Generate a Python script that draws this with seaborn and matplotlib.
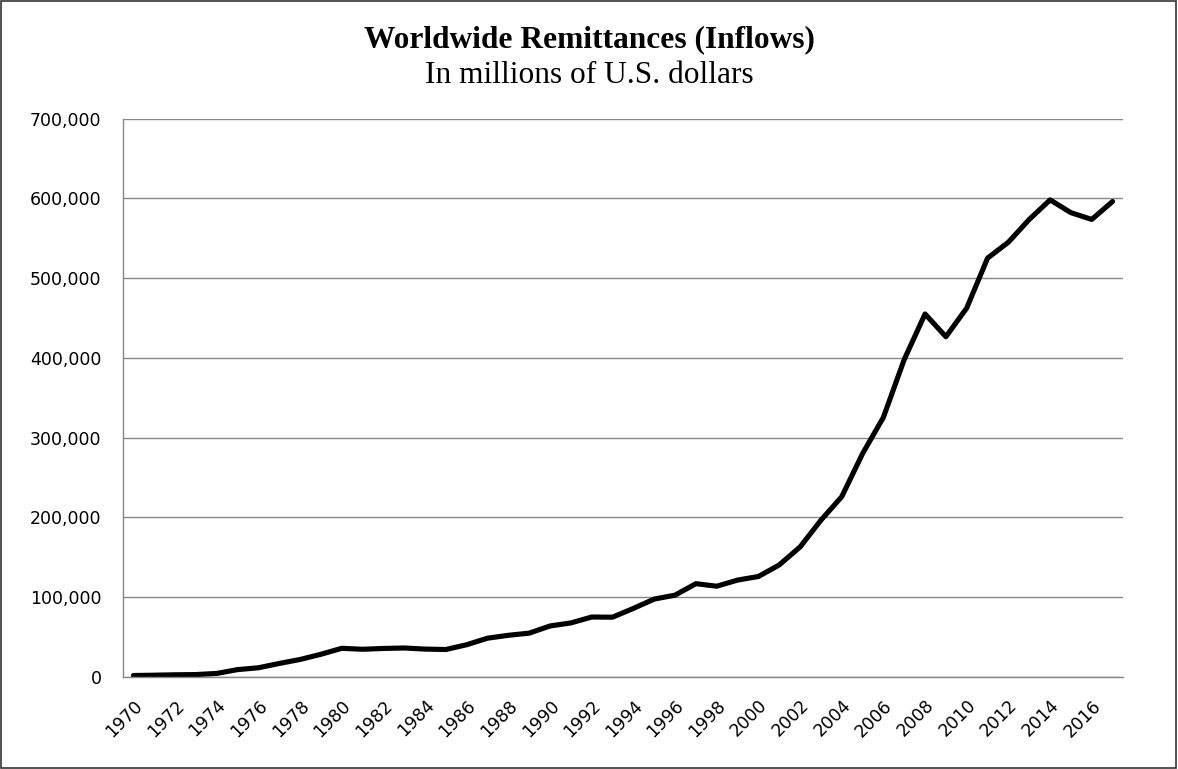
import numpy as np
import pandas as pd
import matplotlib
matplotlib.use("Agg")
import matplotlib.pyplot as plt
import seaborn as sns
from matplotlib.ticker import FuncFormatter, FixedLocator

# values (millions of US$)
years = list(range(1970, 2018))
inflows = [1900, 2300, 2800, 3100, 4500, 9300, 11600, 17000, 22000, 28500,
           36000, 34800, 35800, 36400, 35000, 34500, 40500, 48700, 52300, 55000,
           64000, 67800, 75200, 75000, 86000, 97700, 102600, 117000, 113800, 121500,
           126000, 140500, 163000, 196500, 226000, 280000, 325500, 398000, 455000, 426500,
           462500, 525000, 545000, 573500, 598000, 582000, 573500, 596000]
label_years = list(range(1970, 2017, 2))
y_ticks = list(range(0, 700001, 100000))

title = "Worldwide Remittances (Inflows)"
subtitle = "In millions of U.S. dollars"

df = pd.DataFrame({"year": years, "inflows": inflows})

sns.set_style("white")
plt.rcParams["font.family"] = ["DejaVu Sans"]
plt.rcParams["text.color"] = "black"
plt.rcParams["xtick.labelcolor"] = "black"
plt.rcParams["ytick.labelcolor"] = "black"

fig = plt.figure(figsize=(11.78, 7.69), dpi=100)
ax = fig.add_axes([0.1044, 0.1196, 0.9533 - 0.1044, 0.8459 - 0.1196])

sns.lineplot(data=df, x="year", y="inflows", ax=ax, color="black", linewidth=3.7,
             solid_joinstyle="round", solid_capstyle="round")

grid_col = "#888888"
ax.set_xlim(1969.5, 2017.5)
ax.set_ylim(0, 700000)
ax.yaxis.set_major_locator(FixedLocator(y_ticks))
ax.yaxis.set_major_formatter(FuncFormatter(lambda v, p: f"{int(v):,}"))
ax.grid(axis="y", color=grid_col, linewidth=1.0)
ax.set_axisbelow(True)

# labels sit on every other category, tick marks sit between categories
ax.xaxis.set_major_locator(FixedLocator(label_years))
ax.xaxis.set_minor_locator(FixedLocator(np.arange(1969.5, 2018, 1)))
ax.tick_params(axis="x", which="major", length=0, pad=14, labelsize=12.5)
ax.tick_params(axis="x", which="minor", length=5, width=1, color=grid_col, direction="out")
ax.tick_params(axis="y", which="major", length=5.5, width=1, color=grid_col, direction="out",
               labelsize=12.5, pad=10)
plt.setp(ax.get_xticklabels(), rotation=45, ha="right", rotation_mode="anchor")

for side in ["top", "right"]:
    ax.spines[side].set_visible(False)
for side in ["left", "bottom"]:
    ax.spines[side].set_color(grid_col)
    ax.spines[side].set_linewidth(1.0)

ax.set_xlabel("")
ax.set_ylabel("")

fig.text(0.5, 1 - 47.5 / 769, title, ha="center", va="baseline", color="black",
         family="Liberation Serif", fontweight="bold", fontsize=22.6)
fig.text(0.5, 1 - 83 / 769, subtitle, ha="center", va="baseline", color="black",
         family="Liberation Serif", fontsize=22.6)

# chart border
fig.patches.append(plt.Rectangle((0.0005, 0.0008), 0.998, 0.998, transform=fig.transFigure,
                                 fill=False, edgecolor="#333333", linewidth=1.2))

fig.savefig("out.png", dpi=100)
